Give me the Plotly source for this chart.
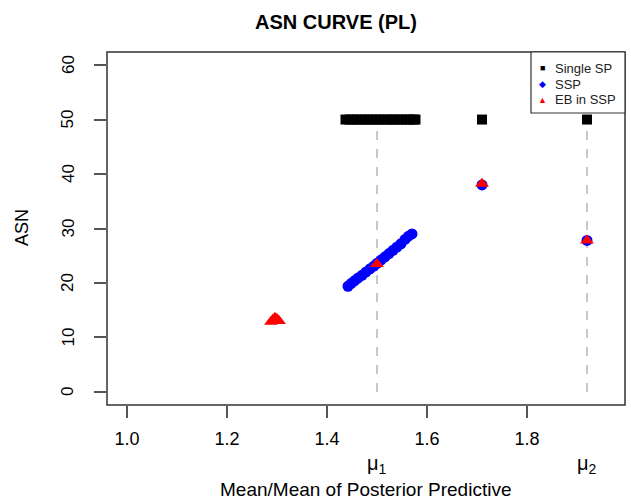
import plotly.graph_objects as go

# Single SP (ASN = sample size of single sampling plan)
single_x = [1.437, 1.445, 1.452, 1.46, 1.468, 1.475, 1.483, 1.49, 1.498, 1.505, 1.513,
            1.52, 1.528, 1.535, 1.543, 1.55, 1.558, 1.565, 1.573, 1.577, 1.71, 1.92]
single_y = [50] * len(single_x)

# SSP
ssp_x = [1.442, 1.448, 1.455, 1.462, 1.47, 1.478, 1.486, 1.494, 1.50, 1.508, 1.516,
         1.524, 1.532, 1.54, 1.548, 1.556, 1.563, 1.57, 1.71, 1.92]
ssp_y = [19.4, 19.9, 20.4, 20.9, 21.4, 22.0, 22.6, 23.1, 23.6, 24.2, 24.8,
         25.4, 26.0, 26.6, 27.2, 28.0, 28.6, 29.0, 38.0, 27.8]

# EB in SSP
eb_x = [1.288, 1.292, 1.296, 1.30, 1.304, 1.50, 1.71, 1.92]
eb_y = [12.9, 13.3, 13.6, 13.4, 13.0, 23.5, 38.2, 27.8]

# reference means
mu_x = [1.50, 1.92]
mu_labels = ["μ<sub>1</sub>", "μ<sub>2</sub>"]
mu_line_y = [0, 50]

x_ticks = [1.0, 1.2, 1.4, 1.6, 1.8]
y_ticks = [0, 10, 20, 30, 40, 50, 60]

legend_names = ["Single SP", "SSP", "EB in SSP"]
legend_glyphs = ["■", "◆", "▲"]
legend_colors = ["black", "#0000ff", "#ff0000"]

FONT = "Liberation Sans, Arial, sans-serif"

fig = go.Figure()

for m in mu_x:
    fig.add_trace(go.Scatter(x=[m, m], y=mu_line_y, mode="lines",
                             line=dict(color="#c8c8c8", width=2, dash="dash"),
                             showlegend=False, hoverinfo="skip"))

fig.add_trace(go.Scatter(x=single_x, y=single_y, mode="markers", name=legend_names[0],
                         marker=dict(symbol="square", size=10, color=legend_colors[0])))
fig.add_trace(go.Scatter(x=ssp_x, y=ssp_y, mode="markers", name=legend_names[1],
                         marker=dict(symbol="circle", size=11, color=legend_colors[1])))
fig.add_trace(go.Scatter(x=eb_x, y=eb_y, mode="markers", name=legend_names[2],
                         marker=dict(symbol="triangle-up", size=12, color=legend_colors[2])))

W, H = 631, 500
L, R, T, B = 107, 6, 52, 95
pw = W - L - R
ph = H - T - B


def px_x(p):
    return (p - L) / pw


def px_y(p):
    return (H - B - p) / ph


fig.update_layout(
    width=W, height=H,
    margin=dict(l=L, r=R, t=T, b=B, pad=0),
    paper_bgcolor="white", plot_bgcolor="white",
    font=dict(family=FONT, size=16, color="black"),
    title=dict(text="<b>ASN CURVE (PL)</b>", x=336 / W, xanchor="center",
               y=1 - 22 / H, yanchor="middle", font=dict(size=20)),
    showlegend=False,
    xaxis=dict(range=[0.96, 1.996], tickvals=x_ticks, ticktext=[f"{v:.1f}" for v in x_ticks],
               showgrid=False, zeroline=False, ticks="outside", ticklen=12,
               tickcolor="#555555", tickwidth=1.5, showline=False, ticklabelstandoff=5,
               tickfont=dict(size=18)),
    yaxis=dict(range=[-2.4, 62.4], tickvals=y_ticks, showgrid=False, zeroline=False,
               ticks="outside", ticklen=12, tickcolor="#555555", tickwidth=1.5,
               showline=False, showticklabels=False),
)

# y tick labels (rotated, R style)
for v in y_ticks:
    fig.add_annotation(x=px_x(68), xref="paper", y=v, yref="y", text=str(v),
                       showarrow=False, textangle=-90, font=dict(size=17),
                       xanchor="center", yanchor="middle")

# plot box
fig.add_shape(type="rect", xref="paper", yref="paper", x0=0, y0=0, x1=1, y1=1,
              line=dict(color="#333333", width=1.5))

# legend box (R style)
fig.add_shape(type="rect", xref="paper", yref="paper", x0=px_x(531), y0=px_y(113),
              x1=1, y1=1, line=dict(color="#333333", width=1.2), fillcolor="white",
              layer="above")
for i, (nm, g, c) in enumerate(zip(legend_names, legend_glyphs, legend_colors)):
    yy = px_y(68 + i * 16)
    fig.add_annotation(x=px_x(542), xref="paper", y=yy, yref="paper",
                       text=f"<span style='color:{c}'>{g}</span>", showarrow=False,
                       font=dict(size=9), xanchor="center", yanchor="middle")
    fig.add_annotation(x=px_x(553), xref="paper", y=yy, yref="paper",
                       text=nm, showarrow=False, font=dict(size=13, color="#222222"),
                       xanchor="left", yanchor="middle")

# mu labels
for m, lab in zip(mu_x, mu_labels):
    fig.add_annotation(x=m, xref="x", y=px_y(465), yref="paper",
                       text=lab, showarrow=False, font=dict(size=20),
                       xanchor="center", yanchor="middle")
# axis titles
fig.add_annotation(x=px_x(365), xref="paper", y=px_y(489), yref="paper",
                   text="Mean/Mean of Posterior Predictive", showarrow=False,
                   font=dict(size=19), xanchor="center", yanchor="middle")
fig.add_annotation(x=px_x(22), xref="paper", y=px_y(228), yref="paper",
                   text="ASN", showarrow=False, textangle=-90,
                   font=dict(size=18), xanchor="center", yanchor="middle")

fig.write_html("out.html")
